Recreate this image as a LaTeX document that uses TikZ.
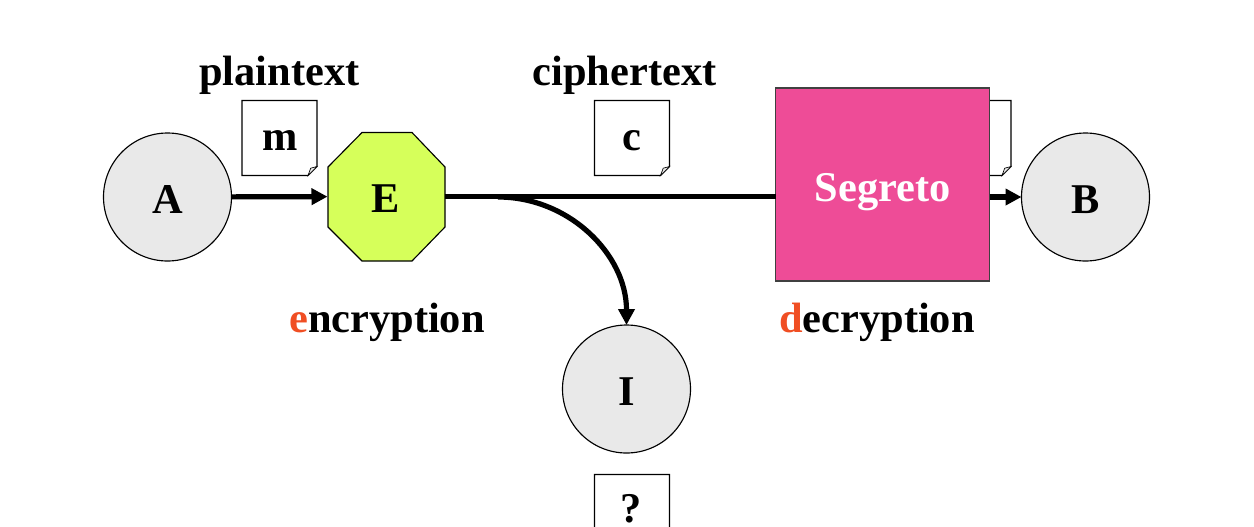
\documentclass[tikz,border=0pt]{standalone}
\usepackage{fontspec}
\setmainfont{Liberation Serif}
\usetikzlibrary{arrows.meta}
\definecolor{partygrey}{HTML}{E9E9E9}
\definecolor{limefill}{HTML}{D6FF5A}
\definecolor{secretpink}{HTML}{EE4C97}
\definecolor{initialred}{HTML}{F04E23}
\newcommand{\notepage}[2]{%
  \begin{scope}[shift={(#1,#2)}]
    \draw[notestroke,fill=white] (0,0) -- (75,0) -- (75,66) -- (66,75) -- (0,75) -- cycle;
    \draw[notestroke,line width=0.5pt,fill=partygrey] (66,75) -- (68.7,67.7) -- (75,66) -- cycle;
  \end{scope}}
\tikzset{
  x=0.75pt,y=-0.75pt,
  bigtext/.style={font=\bfseries\fontsize{31.8}{36}\selectfont,inner sep=0pt,outer sep=0pt},
  caption/.style={bigtext,anchor=base,text=black},
  party/.style={bigtext,circle,draw=black,line width=0.85pt,fill=partygrey,minimum size=96pt,text height=24pt,text depth=0pt},
  notestroke/.style={draw=black,line width=0.85pt},
  flow/.style={line width=3.9pt,draw=black},
  flowhead/.style={flow,-{Triangle[length=12pt,width=12pt]}},
}
\begin{document}
\begin{tikzpicture}
\clip (0,0) rectangle (1254,526);
\fill[white] (0,0) rectangle (1254,526);
% documents
\notepage{242}{100.5}
\notepage{594.5}{100.5}
\notepage{936}{100.5}
\notepage{594.5}{474.5}
% nodes
\node[party] (A) at (167.5,197) {A};
\node[party] (B) at (1085.5,197) {B};
\node[party] (I) at (626.5,389) {I};
\draw[draw=black,line width=0.85pt,fill=limefill]
  (362,132.5) -- (412,132.5) -- (445,167) -- (445,227) -- (412,261) -- (362,261) -- (328,227) -- (328,167) -- cycle;
\node[bigtext,minimum width=87.75pt,minimum height=96.75pt,text height=24pt,text depth=0pt] (E) at (386,196.5) {E};
\coordinate (branch) at (498,197);
% connectors under the box
\draw[flowhead] (A) -- (E);
\node[bigtext,text=white,draw=black!75,line width=0.9pt,fill=secretpink,minimum width=160.5pt,minimum height=144.75pt,text height=25pt,text depth=0pt] (seg) at (882.8,184.5) {Segreto};
\draw[flow] (E.east) -- (E.east -| seg.west);
\draw[flowhead] (B.west -| seg.east) -- (B.west);
\draw[flowhead] (branch) to[out=0,in=90] (I.north);
% captions
\node[caption] (plain) at (279.5,85) {plaintext};
\node[caption] (cipher) at (624.5,85) {ciphertext};
\node[caption] (m) at (280.5,150) {m};
\node[caption] (c) at (631.5,150) {c};
\node[caption] (q) at (631.5,522) {?};
\node[caption] (enc) at (387,332) {{\color{initialred}e}ncryption};
\node[caption] (dec) at (877,332) {{\color{initialred}d}ecryption};
\end{tikzpicture}
\end{document}
